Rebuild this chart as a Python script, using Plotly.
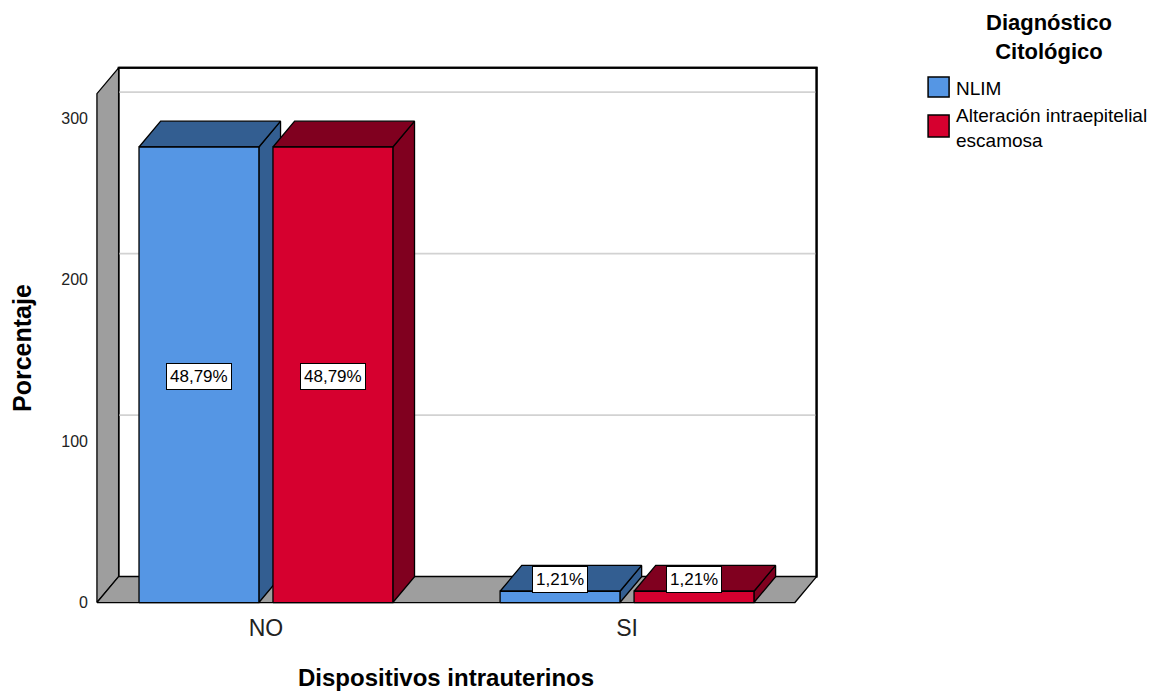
import plotly.graph_objects as go

# ---------------- data ----------------
categories = ["NO", "SI"]
series_names = ["NLIM", "Alteración intraepitelial escamosa"]
nlim_counts = [282, 7]
alter_counts = [282, 7]
nlim_labels = ["48,79%", "1,21%"]
alter_labels = ["48,79%", "1,21%"]
y_tick_values = [0, 100, 200, 300]
legend_title = "Diagnóstico<br>Citológico"
x_title = "Dispositivos intrauterinos"
y_title = "Porcentaje"

# ---------------- style / geometry ----------------
W, H = 1168, 695
CAT_PX0, PX_PER_CAT = 266.0, 361.0     # pixel of category 0 centre, px per category
Y0_PX, PX_PER_UNIT = 603.0, 1.617      # pixel of value 0 (front), px per unit
X_RANGE = [-0.49, 1.54]
Y_RANGE = [-4, 334]

BAR_W = 0.332
GAP = 0.039
DX = 0.06        # depth offset (x, data units)
DY = 16.0        # depth offset (y, data units)
FLOOR_L, FLOOR_R = -0.468, 1.465
WALL_H = 315.0

FONT = "Arial, Liberation Sans, Helvetica, sans-serif"
BLUE_FRONT, BLUE_DARK = "#5596E4", "#335E91"
RED_FRONT, RED_DARK = "#D6002F", "#80001F"
WALL_GRAY = "#9E9E9E"
GRID = "#D2D2D2"

left_px = CAT_PX0 + X_RANGE[0] * PX_PER_CAT
right_px = CAT_PX0 + X_RANGE[1] * PX_PER_CAT
bottom_px = Y0_PX - Y_RANGE[0] * PX_PER_UNIT
top_px = Y0_PX - Y_RANGE[1] * PX_PER_UNIT
ML, MR, MT, MB = left_px, W - right_px, top_px, H - bottom_px
PW, PH = right_px - left_px, bottom_px - top_px


def px2paper(px, py):
    return (px - left_px) / PW, (bottom_px - py) / PH


fig = go.Figure()


def poly(xs, ys, fill, lw=1.3, lc="black"):
    fig.add_trace(go.Scatter(
        x=list(xs) + [xs[0]], y=list(ys) + [ys[0]],
        mode="lines", fill="toself", fillcolor=fill,
        line=dict(color=lc, width=lw), hoverinfo="skip", showlegend=False))


# back wall
poly([FLOOR_L + DX, FLOOR_R + DX, FLOOR_R + DX, FLOOR_L + DX],
     [DY, DY, WALL_H + DY, WALL_H + DY], "white", lw=2)
# grid lines on back wall
for v in y_tick_values[1:]:
    fig.add_trace(go.Scatter(
        x=[FLOOR_L + DX, FLOOR_R + DX], y=[v + DY, v + DY], mode="lines",
        line=dict(color=GRID, width=1.6), hoverinfo="skip", showlegend=False))
# re-draw back wall top/right border over grid
fig.add_trace(go.Scatter(
    x=[FLOOR_L + DX, FLOOR_R + DX, FLOOR_R + DX],
    y=[WALL_H + DY, WALL_H + DY, DY], mode="lines",
    line=dict(color="black", width=2), hoverinfo="skip", showlegend=False))
# left wall
poly([FLOOR_L, FLOOR_L, FLOOR_L + DX, FLOOR_L + DX],
     [0, WALL_H, WALL_H + DY, DY], WALL_GRAY)
# floor
poly([FLOOR_L, FLOOR_R, FLOOR_R + DX, FLOOR_L + DX],
     [0, 0, DY, DY], WALL_GRAY)

# bars (left to right so later bars overlap earlier side faces)
bars = []
for gi, cat in enumerate(categories):
    bars.append((gi - GAP / 2 - BAR_W, gi - GAP / 2, nlim_counts[gi],
                 BLUE_FRONT, BLUE_DARK, nlim_labels[gi]))
    bars.append((gi + GAP / 2, gi + GAP / 2 + BAR_W, alter_counts[gi],
                 RED_FRONT, RED_DARK, alter_labels[gi]))

LABEL_H_UNITS = 26 / PX_PER_UNIT
for x0, x1, v, fc, dc, lab in bars:
    # side face
    poly([x1, x1 + DX, x1 + DX, x1], [0, DY, v + DY, v], dc)
    # top face
    poly([x0, x1, x1 + DX, x0 + DX], [v, v, v + DY, v + DY], dc)
    # front face
    poly([x0, x1, x1, x0], [0, 0, v, v], fc)
    big = v > 2 * LABEL_H_UNITS
    ly = v / 2 if big else v + DY / 2
    fig.add_annotation(x=(x0 + x1) / 2, y=ly, xref="x", yref="y", text=lab,
                       showarrow=False, font=dict(family=FONT, size=17, color="black"),
                       bgcolor="white", bordercolor="black", borderwidth=1, borderpad=3,
                       xanchor="center", yanchor="middle", yshift=-2 if big else -1)

# axis titles
fig.add_annotation(x=0.5, y=0, xref="x", yref="paper", yshift=-(H - Y0_PX) + 24,
                   text=x_title, showarrow=False,
                   font=dict(family=FONT, size=24, color="black", weight="bold"),
                   xanchor="center", yanchor="middle")
fig.add_annotation(x=px2paper(22, 0)[0], y=WALL_H / 2, xref="paper", yref="y",
                   text=y_title, showarrow=False, textangle=-90,
                   font=dict(family=FONT, size=25, color="black", weight="bold"),
                   xanchor="center", yanchor="middle")

# legend (manual)
lx, ly_t = px2paper(1049, 37)
fig.add_annotation(x=lx, y=ly_t, xref="paper", yref="paper",
                   text=legend_title, showarrow=False, align="center",
                   font=dict(family=FONT, size=22, color="black", weight="bold"),
                   xanchor="center", yanchor="middle")

legend_items = [(BLUE_FRONT, "NLIM", 77, 97, 88),
                (RED_FRONT, "Alteración intraepitelial<br>escamosa", 115, 137, 128)]
for color, text, y0p, y1p, yc in legend_items:
    ax0, ay0 = px2paper(928, y1p)
    ax1, ay1 = px2paper(949, y0p)
    fig.add_shape(type="rect", xref="paper", yref="paper", x0=ax0, x1=ax1, y0=ay0, y1=ay1,
                  fillcolor=color, line=dict(color="black", width=1.5))
    fig.add_annotation(x=px2paper(954, 0)[0], y=px2paper(0, yc)[1],
                       xref="paper", yref="paper", text=text, showarrow=False,
                       align="left",
                       font=dict(family=FONT, size=19, color="black"),
                       xanchor="left", yanchor="middle")

fig.update_xaxes(range=X_RANGE, tickvals=list(range(len(categories))), ticktext=categories,
                 showgrid=False, zeroline=False, showline=False, ticks="",
                 ticklabelstandoff=3,
                 tickfont=dict(family=FONT, size=23, color="#222"), fixedrange=True)
fig.update_yaxes(range=Y_RANGE, tickvals=y_tick_values, ticktext=[str(v) for v in y_tick_values],
                 showgrid=False, zeroline=False, showline=False, ticks="",
                 tickfont=dict(family=FONT, size=16, color="#222"), fixedrange=True)

fig.update_layout(width=W, height=H, margin=dict(l=ML, r=MR, t=MT, b=MB),
                  plot_bgcolor="white", paper_bgcolor="white", showlegend=False)

fig.write_html("out.html")
